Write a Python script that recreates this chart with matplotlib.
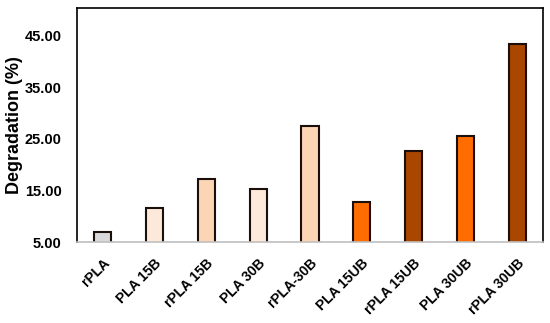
import matplotlib.pyplot as plt

samples = ['rPLA', 'PLA 15B', 'rPLA 15B', 'PLA 30B', 'rPLA-30B',
           'PLA 15UB', 'rPLA 15UB', 'PLA 30UB', 'rPLA 30UB']
degradation = [6.9, 11.6, 17.2, 15.2, 27.5, 12.8, 22.7, 25.6, 43.3]
colors = ['#d9d9d9', '#fde9d9', '#fcd5b5', '#fdeada', '#fcd5b5',
          '#ff6d00', '#a94700', '#ff6d00', '#a94700']

plt.rcParams['font.family'] = ['Liberation Sans', 'DejaVu Sans']
plt.rcParams['font.weight'] = 'bold'

fig = plt.figure(figsize=(5.5, 3.23), dpi=100)
ax = fig.add_axes([77/550, 1 - 242/323, 466/550, 234/323])

x = range(len(samples))
ax.bar(x, degradation, bottom=0, width=0.33, color=colors,
       edgecolor='#1a0f0a', linewidth=1.5, zorder=2)

ax.set_xlim(-0.5, len(samples) - 0.5)
ax.set_ylim(5, 50.3)
ax.set_yticks([5, 15, 25, 35, 45])
ax.set_yticklabels(['%.2f' % v for v in [5, 15, 25, 35, 45]], fontsize=10.5, fontweight='bold')
ax.set_xticks(list(x))
ax.set_xticklabels(samples, rotation=45, ha='right', rotation_mode='anchor',
                   fontsize=10, fontweight='bold')
ax.tick_params(axis='both', length=0)
ax.tick_params(axis='y', pad=11)
ax.tick_params(axis='x', pad=10)
ax.set_ylabel('Degradation (%)', fontsize=13, fontweight='bold', labelpad=1)

for side in ['left', 'top', 'right']:
    ax.spines[side].set_color('black')
    ax.spines[side].set_linewidth(1.2)
ax.spines['bottom'].set_color('#bfbfbf')
ax.spines['bottom'].set_linewidth(1.2)

fig.savefig('out.png', dpi=100)
